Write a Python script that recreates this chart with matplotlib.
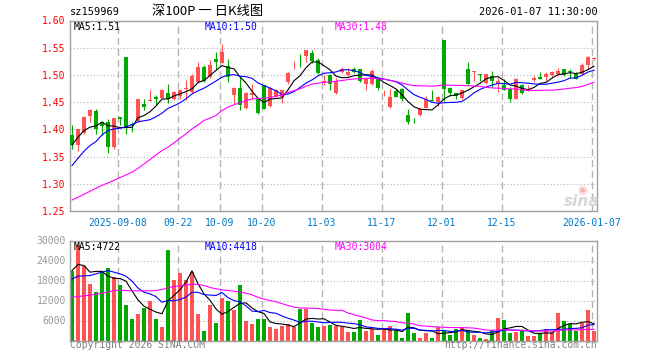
import numpy as np
import pandas as pd
import matplotlib
matplotlib.use('Agg')
import matplotlib.pyplot as plt

# daily candles, 2025-08-27 .. 2026-01-07 (88 trading days)
opens = [1.389, 1.372, 1.394, 1.424, 1.434, 1.413, 1.414, 1.367, 1.422, 1.533,
         1.410, 1.416, 1.447, 1.453, 1.460, 1.457, 1.467, 1.456, 1.461, 1.475,
         1.468, 1.487, 1.514, 1.496, 1.530, 1.522, 1.516, 1.464, 1.476, 1.439,
         1.464, 1.455, 1.481, 1.443, 1.462, 1.459, 1.487, 1.521, 1.522, 1.534,
         1.541, 1.527, 1.487, 1.499, 1.467, 1.505, 1.499, 1.510, 1.510, 1.484,
         1.484, 1.492, 1.466, 1.441, 1.470, 1.475, 1.427, 1.421, 1.426, 1.439,
         1.454, 1.451, 1.565, 1.476, 1.467, 1.457, 1.510, 1.506, 1.502, 1.486,
         1.498, 1.483, 1.481, 1.475, 1.456, 1.482, 1.471, 1.490, 1.496, 1.496,
         1.500, 1.502, 1.510, 1.508, 1.502, 1.502, 1.519, 1.529]
highs = [1.408, 1.401, 1.424, 1.438, 1.438, 1.416, 1.419, 1.421, 1.422, 1.533,
         1.413, 1.456, 1.456, 1.472, 1.464, 1.475, 1.483, 1.471, 1.475, 1.490,
         1.502, 1.524, 1.518, 1.527, 1.542, 1.556, 1.530, 1.478, 1.496, 1.468,
         1.483, 1.456, 1.482, 1.478, 1.475, 1.473, 1.505, 1.525, 1.539, 1.546,
         1.545, 1.531, 1.500, 1.502, 1.494, 1.514, 1.513, 1.514, 1.511, 1.492,
         1.511, 1.496, 1.473, 1.475, 1.475, 1.476, 1.437, 1.421, 1.441, 1.462,
         1.473, 1.462, 1.565, 1.478, 1.467, 1.473, 1.524, 1.508, 1.502, 1.502,
         1.508, 1.494, 1.493, 1.478, 1.494, 1.484, 1.481, 1.498, 1.506, 1.505,
         1.508, 1.513, 1.511, 1.510, 1.505, 1.521, 1.535, 1.533]
lows = [1.363, 1.361, 1.392, 1.414, 1.392, 1.390, 1.356, 1.363, 1.408, 1.391,
        1.395, 1.414, 1.435, 1.452, 1.445, 1.456, 1.449, 1.454, 1.455, 1.454,
        1.467, 1.487, 1.487, 1.495, 1.511, 1.521, 1.487, 1.447, 1.435, 1.438,
        1.456, 1.429, 1.437, 1.441, 1.459, 1.449, 1.484, 1.511, 1.514, 1.524,
        1.522, 1.502, 1.481, 1.472, 1.465, 1.504, 1.498, 1.504, 1.487, 1.473,
        1.482, 1.473, 1.461, 1.439, 1.459, 1.453, 1.410, 1.412, 1.424, 1.439,
        1.452, 1.443, 1.453, 1.462, 1.455, 1.456, 1.481, 1.488, 1.489, 1.484,
        1.478, 1.469, 1.472, 1.450, 1.455, 1.465, 1.470, 1.487, 1.492, 1.488,
        1.496, 1.498, 1.498, 1.494, 1.492, 1.500, 1.511, 1.527]
closes = [1.372, 1.401, 1.423, 1.435, 1.401, 1.406, 1.368, 1.421, 1.419, 1.403,
          1.408, 1.456, 1.441, 1.454, 1.455, 1.473, 1.456, 1.469, 1.473, 1.476,
          1.498, 1.514, 1.488, 1.519, 1.523, 1.542, 1.496, 1.476, 1.445, 1.467,
          1.467, 1.430, 1.438, 1.476, 1.472, 1.473, 1.504, 1.522, 1.521, 1.546,
          1.526, 1.504, 1.488, 1.483, 1.488, 1.511, 1.506, 1.505, 1.488, 1.492,
          1.508, 1.476, 1.467, 1.460, 1.460, 1.455, 1.413, 1.420, 1.437, 1.456,
          1.453, 1.459, 1.475, 1.467, 1.461, 1.472, 1.484, 1.507, 1.499, 1.502,
          1.488, 1.488, 1.473, 1.456, 1.493, 1.467, 1.475, 1.494, 1.493, 1.502,
          1.506, 1.508, 1.500, 1.505, 1.493, 1.518, 1.533, 1.530]
volumes = [20950, 28800, 22450, 16950, 14550, 20950, 21650, 19150, 16650, 10650,
           6450, 7950, 9850, 11950, 6450, 3950, 27150, 18150, 20350, 18150,
           20650, 7950, 2850, 10650, 5250, 12750, 11850, 9250, 16650, 5950,
           5050, 6450, 6450, 4050, 3450, 4350, 4950, 4050, 9450, 9450,
           5250, 4050, 4350, 4650, 4350, 3950, 2550, 2550, 6150, 2950,
           3350, 1650, 3350, 4350, 3150, 850, 8350, 2250, 850, 2350,
           850, 3950, 2950, 1750, 3350, 4150, 2850, 1650, 750, 550,
           3150, 6750, 6150, 2350, 2650, 3150, 1350, 1350, 2150, 3450,
           2650, 8350, 5950, 4950, 2950, 5150, 9150, 2950]

# moving averages at the left edge depend on days before the window
ma5_head = [1.3715, 1.3856, 1.3979, 1.404]
ma10_head = [1.3334, 1.3469, 1.3598, 1.3702, 1.3776, 1.3899, 1.3979, 1.4009, 1.4021]
ma30_head = [1.2702, 1.2752, 1.2807, 1.2862, 1.2917, 1.2972, 1.3015, 1.3064, 1.3113,
             1.3163, 1.3212, 1.3285, 1.3365, 1.3445, 1.3531, 1.3610, 1.3672, 1.3751,
             1.3837, 1.3917, 1.4009, 1.4083, 1.4163, 1.4206, 1.4255, 1.4347, 1.4408,
             1.4451, 1.4488]
vma5_head = [21000, 22800, 22500, 20500]
vma10_head = [18400, 19300, 19400, 19500, 20000, 20500, 21000, 20500, 20000]
vma30_head = [13000, 13200, 13400, 13600, 13900, 14200, 14500, 15000, 15100, 15000,
              14900, 14900, 14900, 14900, 15000, 15300, 15800, 16200, 16400, 16600,
              16900, 16800, 16500, 15900, 15500, 15200, 15000, 14800, 14500]

tick_pos = [8, 18, 25, 32, 42, 52, 62, 72, 87]
tick_labels = ['2025-09-08', '09-22', '10-09', '10-20', '11-03', '11-17',
               '12-01', '12-15', '2026-01-07']
price_ticks = [1.25, 1.30, 1.35, 1.40, 1.45, 1.50, 1.55, 1.60]
vol_ticks = [6000, 12000, 18000, 24000, 30000]


def moving_avg(values, n, head):
    s = pd.Series(values, dtype=float).rolling(n).mean()
    s.iloc[:n - 1] = head
    return s.values


W, H = 660, 360
MONO = 'DejaVu Sans Mono'
RED = '#ff5252'
GREEN = '#00a800'
GRID = '#b4b4b4'
FRAME = '#a0a0a0'


def fx(x):
    return x / W


def fy(y):
    return 1 - y / H


o = np.array(opens)
c = np.array(closes)
x = np.arange(len(o))
up = c >= o
cols = np.where(up, RED, GREEN)

fig = plt.figure(figsize=(W / 100, H / 100), dpi=100)
ax1 = fig.add_axes([fx(70), fy(211), fx(527), 190.5 / H])
ax2 = fig.add_axes([fx(70), fy(340.5), fx(527), 100 / H])

for ax in (ax1, ax2):
    ax.set_xlim(-0.333, 87.5)
    for s in ax.spines.values():
        s.set_color(FRAME)
        s.set_linewidth(1.0)
    ax.tick_params(length=0)
    for p in tick_pos:
        ax.axvline(p - 0.33, color=GRID, lw=1.0, ls=(0, (5, 3)), zorder=0)

# price panel
ax1.set_ylim(1.25, 1.60)
for lv in price_ticks[1:-1]:
    ax1.axhline(lv, color=GRID, lw=0.8, ls=(0, (1, 2)), zorder=0)
ax1.vlines(x, lows, highs, colors=cols, lw=0.8, zorder=2)
body = np.maximum(np.abs(c - o), 0.0012)
ax1.bar(x, body, bottom=np.minimum(o, c), width=0.8, color=cols, lw=0, zorder=3)
ax1.plot(x, moving_avg(closes, 5, ma5_head), color='black', lw=0.8, zorder=4)
ax1.plot(x, moving_avg(closes, 10, ma10_head), color='#0000ff', lw=0.8, zorder=4)
ax1.plot(x, moving_avg(closes, 30, ma30_head), color='#ff00ff', lw=0.8, zorder=4)
ax1.set_yticks(price_ticks, [f'{v:.2f}' for v in price_ticks])
ax1.tick_params(axis='y', labelcolor='#ff0000', pad=3)
ax1.set_xticks([p - 0.33 for p in tick_pos], tick_labels)
ax1.tick_params(axis='x', labelcolor='#0078c8', pad=5)
for lab in ax1.get_xticklabels() + ax1.get_yticklabels():
    lab.set_fontfamily(MONO)
    lab.set_fontsize(7)

# volume panel
ax2.set_ylim(0, 30000)
for lv in vol_ticks[:-1]:
    ax2.axhline(lv, color=GRID, lw=0.8, ls=(0, (1, 2)), zorder=0)
ax2.bar(x, volumes, width=0.8, color=cols, lw=0, zorder=2)
ax2.plot(x, moving_avg(volumes, 5, vma5_head), color='black', lw=0.8, zorder=4)
ax2.plot(x, moving_avg(volumes, 10, vma10_head), color='#0000ff', lw=0.8, zorder=4)
ax2.plot(x, moving_avg(volumes, 30, vma30_head), color='#ff00ff', lw=0.8, zorder=4)
ax2.set_yticks(vol_ticks, [str(v) for v in vol_ticks])
ax2.tick_params(axis='y', labelcolor='#999999', pad=3)
ax2.set_xticks([])
for lab in ax2.get_yticklabels():
    lab.set_fontfamily(MONO)
    lab.set_fontsize(7)

# header and legends
fig.text(fx(70), fy(12), 'sz159969', family=MONO, fontsize=7.5, va='center')
fig.text(fx(208), fy(12), '深100P 一 日K线图', family=['Noto Sans CJK SC', 'DejaVu Sans'],
         fontsize=9.5, ha='center', va='center')
fig.text(fx(598), fy(12), '2026-01-07 11:30:00', family=MONO, fontsize=7.5,
         ha='right', va='center')

for y0, texts in ((26.5, ['MA5:1.51', 'MA10:1.50', 'MA30:1.48']),
                  (246.5, ['MA5:4722', 'MA10:4418', 'MA30:3004'])):
    for xx, t, col in zip([74, 205, 335], texts, ['black', '#0000ff', '#ff00ff']):
        fig.text(fx(xx), fy(y0), t, family=MONO, fontsize=7, color=col, va='center')

fig.text(fx(70), fy(345.5), 'Copyright 2026 SINA.COM', family=MONO, fontsize=7,
         color='#808080', va='center')
fig.text(fx(597), fy(345.5), 'http://finance.sina.com.cn', family=MONO, fontsize=7,
         color='#808080', va='center', ha='right')

# sina watermark
fig.text(fx(582), fy(190), '◉', fontsize=8, color='#f2b8b8', ha='center', va='center')
fig.text(fx(582), fy(202), 'sina', fontsize=11, color='#d6d6d6', style='italic',
         weight='bold', ha='center', va='center')

fig.savefig('out.png', dpi=100)
